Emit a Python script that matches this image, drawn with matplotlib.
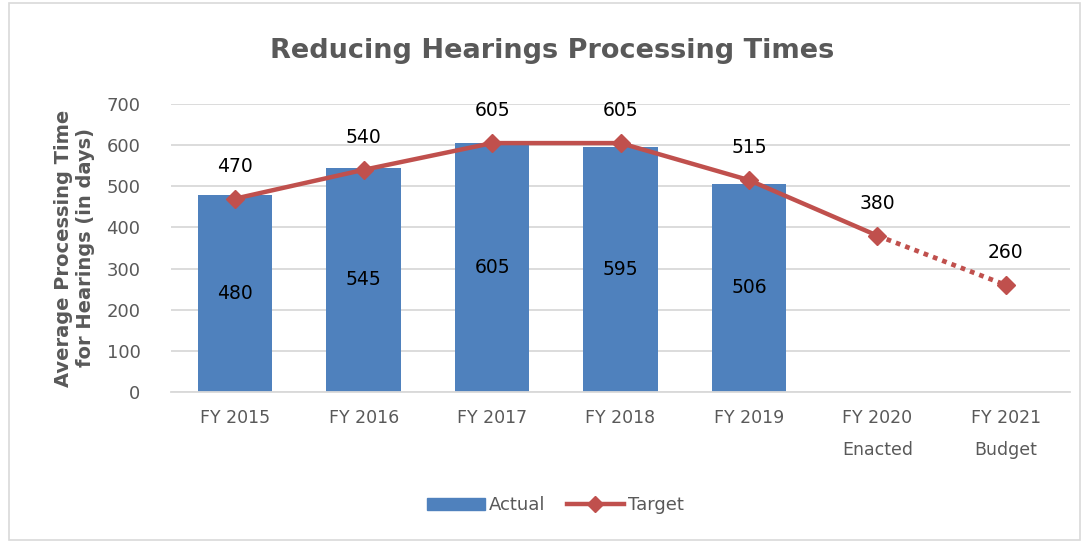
import numpy as np
import matplotlib.pyplot as plt
from matplotlib.patches import Rectangle
from matplotlib.lines import Line2D

categories = ["FY 2015", "FY 2016", "FY 2017", "FY 2018", "FY 2019", "FY 2020\nEnacted", "FY 2021\nBudget"]
actual = [480, 545, 605, 595, 506]
target = [470, 540, 605, 605, 515, 380, 260]

bar_col = "#4f81bd"
line_col = "#c0504d"
grey = "#595959"

plt.rcParams['font.family'] = ['DejaVu Sans']

fig = plt.figure(figsize=(10.89, 5.42), dpi=100)
ax = fig.add_axes([0.157, 0.2768, 0.8256, 0.5313])

x = np.arange(len(categories))
xa = x[:len(actual)]
ax.bar(xa, actual, width=0.58, color=bar_col, zorder=2)
for xi, v in zip(xa, actual):
    ax.text(xi, v / 2, str(v), ha="center", va="center", fontsize=13.5, color="#000000", zorder=4)

# solid part of target up to FY 2020, dotted to FY 2021
ax.plot(x[:6], target[:6], color=line_col, lw=3.2, zorder=3, solid_capstyle="butt")
ax.plot(x[5:], target[5:], color=line_col, lw=3.4, ls=(0, (1, 1.1)), zorder=3)
ax.plot(x, target, ls="none", marker="D", ms=9, color=line_col, zorder=3)
for xi, v in zip(x, target):
    ax.text(xi, v + 55, str(v), ha="center", va="bottom", fontsize=13.5, color="#000000", zorder=4)

ax.set_ylim(0, 700)
ax.set_xlim(-0.5, len(categories) - 0.5)
ax.set_yticks(range(0, 701, 100))
ax.set_xticks(x)
ax.set_xticklabels(categories, fontsize=12.5, color=grey, linespacing=2.0)
ax.tick_params(axis="y", labelsize=13, labelcolor=grey, length=0, pad=22)
ax.tick_params(axis="x", length=0, pad=12)
ax.grid(axis="y", color="#d9d9d9", lw=1.3, zorder=0)
for s in ["top", "right", "left"]:
    ax.spines[s].set_visible(False)
ax.spines["bottom"].set_color("#d9d9d9")
ax.spines["bottom"].set_linewidth(1.3)

ax.set_ylabel("Average Processing Time\nfor Hearings (in days)", fontsize=14, fontweight="bold",
              color=grey, linespacing=1.25, labelpad=8)
fig.text(0.507, 0.905, "Reducing Hearings Processing Times", ha="center", va="center",
         fontsize=19.5, fontweight="bold", color=grey)

handles = [Rectangle((0, 0), 1, 1, color=bar_col),
           Line2D([], [], color=line_col, lw=3.2, marker="D", ms=8)]
fig.legend(handles, ["Actual", "Target"], loc="center", bbox_to_anchor=(0.51, 0.068), ncol=2,
           frameon=False, fontsize=13, labelcolor=grey, handlelength=3.2, handleheight=0.6,
           columnspacing=1.2, handletextpad=0.2)

fig.patches.append(Rectangle((0.008, 0.004), 0.984, 0.99, transform=fig.transFigure,
                             fill=False, ec="#d9d9d9", lw=1.2))

fig.savefig("out.png", dpi=100)
